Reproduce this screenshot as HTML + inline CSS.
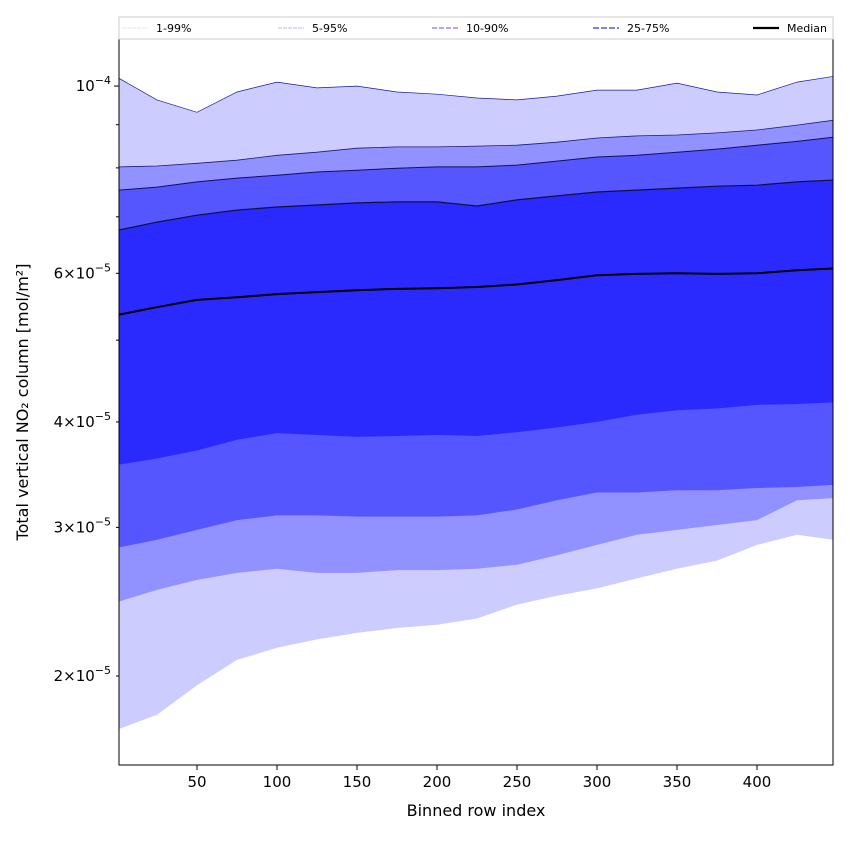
<!DOCTYPE html>
<html><head><meta charset="utf-8"><style>
body{margin:0;background:#fff;}
svg{font-family:"DejaVu Sans","Liberation Sans",sans-serif;}
</style></head><body>
<svg id="chart" width="850" height="850" xmlns="http://www.w3.org/2000/svg"></svg>
<script>
const rows = [1,25,50,75,100,125,150,175,200,225,250,275,300,325,350,375,400,425,448];
// values in units of 1e-5 mol/m²
const p99 = [10.22,9.63,9.31,9.84,10.11,9.95,10.0,9.84,9.78,9.68,9.63,9.73,9.89,9.89,10.08,9.84,9.76,10.11,10.27];
const p95 = [8.02,8.04,8.10,8.17,8.28,8.35,8.44,8.47,8.47,8.49,8.51,8.58,8.68,8.73,8.75,8.80,8.87,8.99,9.11];
const p90 = [7.53,7.59,7.70,7.78,7.84,7.91,7.95,7.99,8.02,8.02,8.06,8.15,8.24,8.28,8.35,8.42,8.51,8.60,8.70];
const p75 = [6.75,6.90,7.03,7.13,7.19,7.23,7.27,7.29,7.29,7.21,7.33,7.41,7.49,7.53,7.57,7.61,7.63,7.70,7.74];
const median = [5.36,5.47,5.58,5.62,5.67,5.70,5.73,5.75,5.76,5.78,5.82,5.89,5.97,5.99,6.00,5.99,6.00,6.05,6.08];
const p25 = [3.56,3.62,3.70,3.81,3.88,3.86,3.84,3.85,3.86,3.85,3.89,3.94,4.00,4.08,4.13,4.15,4.19,4.20,4.22];
const p10 = [2.84,2.90,2.98,3.06,3.10,3.10,3.09,3.09,3.09,3.10,3.15,3.23,3.30,3.30,3.32,3.32,3.34,3.35,3.37];
const p5 = [2.45,2.53,2.60,2.65,2.68,2.65,2.65,2.67,2.67,2.68,2.71,2.78,2.86,2.94,2.98,3.02,3.06,3.23,3.25];
const p1 = [1.73,1.80,1.95,2.09,2.16,2.21,2.25,2.28,2.30,2.34,2.43,2.49,2.54,2.61,2.68,2.74,2.86,2.94,2.90];
const xTicks = [50,100,150,200,250,300,350,400];
const yLabeled = [2,3,4,6];
const yMinorOnly = [5,7,8,9];

const L=119,R=833,T=39,B=765;
const xMin=1.25,xMax=447.5;
const yTop=11.37,yBot=1.569;
const X=v=>L+(v-xMin)/(xMax-xMin)*(R-L);
const Y=v=>T+(Math.log10(yTop)-Math.log10(v))/(Math.log10(yTop)-Math.log10(yBot))*(B-T);
const svg=document.getElementById('chart');
const NS='http://www.w3.org/2000/svg';
function mk(tag,attrs,parent){const e=document.createElementNS(NS,tag);for(const k in attrs)e.setAttribute(k,attrs[k]);(parent||svg).appendChild(e);return e;}

const defs=mk('defs',{});
const cp=mk('clipPath',{id:'clip'},defs);
mk('rect',{x:L,y:T,width:R-L,height:B-T},cp);
const g=mk('g',{'clip-path':'url(#clip)'});

function band(lo,hi,fill,name){
  let d='';
  rows.forEach((r,i)=>{d+=(i?'L':'M')+X(r).toFixed(1)+','+Y(hi[i]).toFixed(1);});
  for(let i=rows.length-1;i>=0;i--)d+='L'+X(rows[i]).toFixed(1)+','+Y(lo[i]).toFixed(1);
  const p=mk('path',{d:d+'Z',fill:fill},g);
  
  
}
function line(arr,stroke,w,name){
  let d='';
  rows.forEach((r,i)=>{d+=(i?'L':'M')+X(r).toFixed(1)+','+Y(arr[i]).toFixed(1);});
  const p=mk('path',{d:d,fill:'none',stroke:stroke,'stroke-width':w},g);
  
  
}
band(p1,p99,'#ccccff','band-1-99');
band(p5,p95,'#9191ff','band-5-95');
band(p10,p90,'#5656ff','band-10-90');
band(p25,p75,'#2a2aff','band-25-75');
line(p99,'#1a1aa0',0.7,'line-p99');
line(p95,'#1a1a80',0.8,'line-p95');
line(p90,'#101060',1,'line-p90');
line(p75,'#101040',1.2,'line-p75');
line(median,'#000',2,'median-line');

const frame=mk('rect',{x:L,y:T,width:R-L,height:B-T,fill:'none',stroke:'#000','stroke-width':1});



xTicks.forEach(t=>{
  const x=X(t);
  mk('line',{x1:x,x2:x,y1:B,y2:B+5,stroke:'#000'});
  const tx=mk('text',{x:x,y:B+22,'text-anchor':'middle','font-size':15});
  tx.textContent=t;
  
  
});
yLabeled.forEach(t=>{
  const y=Y(t);
  mk('line',{x1:L-3,x2:L,y1:y,y2:y,stroke:'#000'});
  const tx=mk('text',{x:L-8,y:y+5,'text-anchor':'end','font-size':15});
  tx.innerHTML=t+'×10<tspan dy="-7" font-size="11">−5</tspan>';
  
  
});
yMinorOnly.forEach(t=>{const y=Y(t);mk('line',{x1:L-3,x2:L,y1:y,y2:y,stroke:'#000'});});
{
  const y=Y(10);
  mk('line',{x1:L-5,x2:L,y1:y,y2:y,stroke:'#000'});
  const tx=mk('text',{x:L-8,y:y+5,'text-anchor':'end','font-size':15});
  tx.innerHTML='10<tspan dy="-7" font-size="11">−4</tspan>';
  
  
}
const xt=mk('text',{x:(L+R)/2,y:816,'text-anchor':'middle','font-size':16});
xt.textContent='Binned row index';


const yt=mk('text',{x:0,y:0,'text-anchor':'middle','font-size':16,transform:`translate(28,${(T+B)/2}) rotate(-90)`});
yt.textContent='Total vertical NO₂ column [mol/m²]';



// legend
const lg=mk('g',{});


mk('rect',{x:L,y:17,width:R-L,height:22,fill:'#fff',stroke:'#ccc','stroke-width':1},lg);
const entries=[['1-99%',122,'#d8d8ff',0.7,'4,1'],['5-95%',278,'#a0a0ff',0.8,'4,1'],['10-90%',432,'#7777ff',1.2,'5,2'],['25-75%',593,'#5555ff',1.6,'6,2'],['Median',753,'#000',2.2,'']];
entries.forEach(e=>{
  const eg=mk('g',{},lg);
  
  
  const ln=mk('line',{x1:e[1],x2:e[1]+26,y1:28,y2:28,stroke:e[2],'stroke-width':e[3]},eg);
  if(e[4])ln.setAttribute('stroke-dasharray',e[4]);
  const t=mk('text',{x:e[1]+34,y:32,'font-size':11},eg);
  t.textContent=e[0];
});
</script>
</body></html>
